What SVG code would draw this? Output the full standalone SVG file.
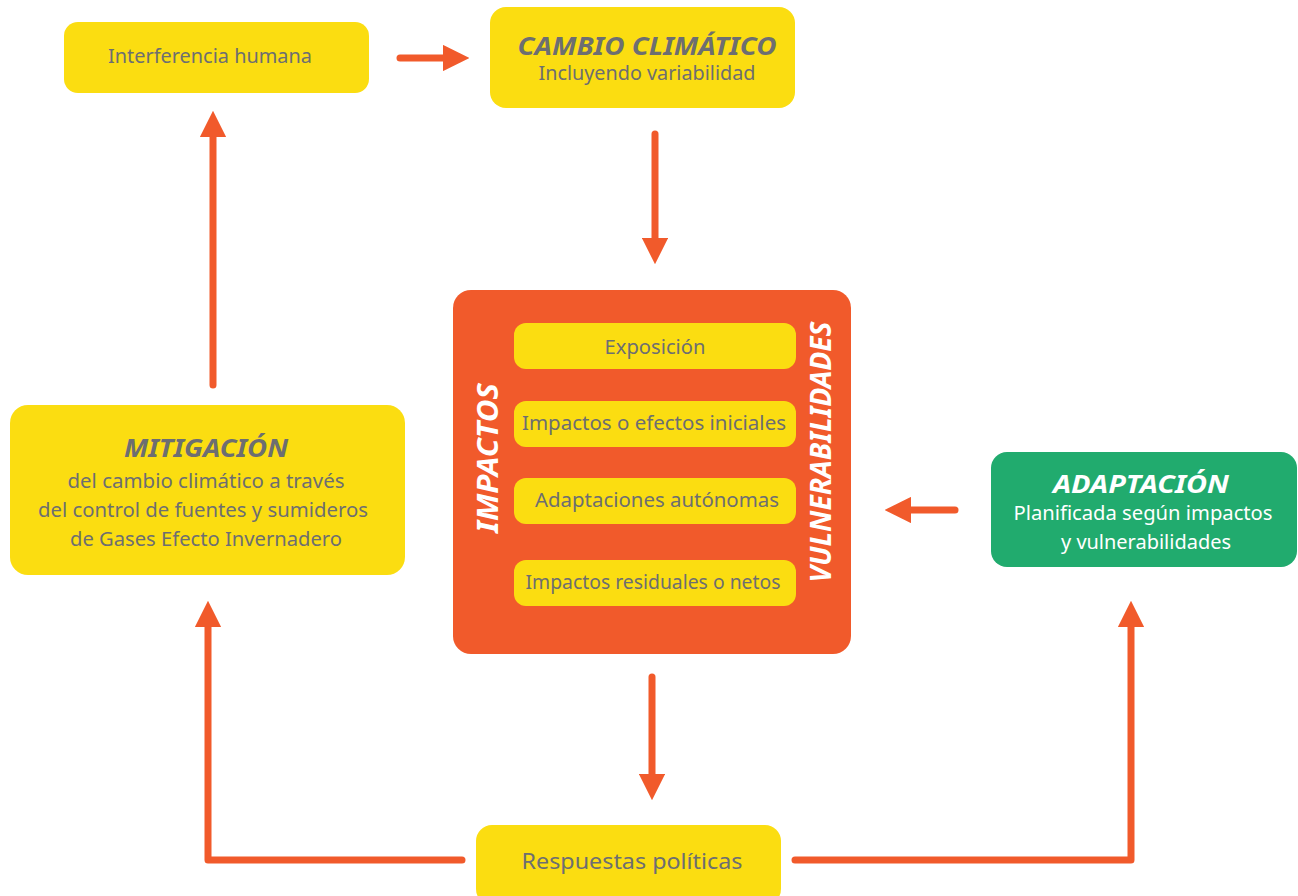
<svg xmlns="http://www.w3.org/2000/svg" width="1298" height="896" viewBox="0 0 1298 896">
<style>
.y{fill:#FBDD11}
.t{font-family:"Noto Sans","Open Sans",sans-serif;fill:#6D6E71;text-anchor:middle}
.b{font-weight:bold;font-style:italic}
.w{fill:#FFFFFF}
.c{fill:none;stroke:#F15A2B;stroke-width:7;stroke-linecap:round;stroke-linejoin:round}
</style>
<defs>
<marker id="ah" viewBox="0 0 10 10" refX="2" refY="5" markerWidth="3.8" markerHeight="3.8" orient="auto" markerUnits="strokeWidth">
<path d="M0,0 L10,5 L0,10 Z" fill="#F15A2B"/>
</marker>
</defs>
<rect width="1298" height="896" fill="#FFFFFF"/>
<g id="connectors">
<path class="c" d="M400,58 L448,58" marker-end="url(#ah)"/>
<path class="c" d="M655,134 L655,243" marker-end="url(#ah)"/>
<path class="c" d="M213,385 L213,132" marker-end="url(#ah)"/>
<path class="c" d="M955,510 L906,510" marker-end="url(#ah)"/>
<path class="c" d="M652,677 L652,779" marker-end="url(#ah)"/>
<path class="c" d="M462,860 L208,860 L208,622" marker-end="url(#ah)"/>
<path class="c" d="M795,860 L1131,860 L1131,622" marker-end="url(#ah)"/>
</g>
<g id="interferencia">
<rect class="y" x="64" y="22" width="305" height="71" rx="14"/>
<text class="t" x="210" y="63" font-size="20" textLength="204" lengthAdjust="spacingAndGlyphs">Interferencia humana</text>
</g>
<g id="cambio">
<rect class="y" x="490" y="7" width="305" height="101" rx="16"/>
<text class="t b" x="647" y="55" font-size="25" textLength="259" lengthAdjust="spacingAndGlyphs">CAMBIO CLIMÁTICO</text>
<text class="t" x="647" y="80" font-size="19" textLength="217" lengthAdjust="spacingAndGlyphs">Incluyendo variabilidad</text>
</g>
<g id="impactos">
<rect x="453" y="290" width="398" height="364" rx="18" fill="#F15A2B"/>
<text class="t b w" transform="translate(498,458) rotate(-90)" x="0" y="0" font-size="29" textLength="150" lengthAdjust="spacingAndGlyphs">IMPACTOS</text>
<text class="t b w" transform="translate(831,452) rotate(-90)" x="0" y="0" font-size="29" textLength="261" lengthAdjust="spacingAndGlyphs">VULNERABILIDADES</text>
</g>
<g id="exposicion">
<rect class="y" x="514" y="323" width="282" height="46" rx="12"/>
<text class="t" x="655" y="354" font-size="19" textLength="101" lengthAdjust="spacingAndGlyphs">Exposición</text>
</g>
<g id="iniciales">
<rect class="y" x="514" y="401" width="282" height="46" rx="12"/>
<text class="t" x="654" y="430" font-size="19" textLength="264" lengthAdjust="spacingAndGlyphs">Impactos o efectos iniciales</text>
</g>
<g id="autonomas">
<rect class="y" x="514" y="478" width="282" height="46" rx="12"/>
<text class="t" x="657" y="507" font-size="19" textLength="244" lengthAdjust="spacingAndGlyphs">Adaptaciones autónomas</text>
</g>
<g id="residuales">
<rect class="y" x="514" y="560" width="282" height="46" rx="12"/>
<text class="t" x="653" y="589" font-size="19" textLength="255" lengthAdjust="spacingAndGlyphs">Impactos residuales o netos</text>
</g>
<g id="mitigacion">
<rect class="y" x="10" y="405" width="395" height="170" rx="18"/>
<text class="t b" x="206" y="457" font-size="25" textLength="164" lengthAdjust="spacingAndGlyphs">MITIGACIÓN</text>
<text class="t" x="206" y="488" font-size="19" textLength="277" lengthAdjust="spacingAndGlyphs">del cambio climático a través</text>
<text class="t" x="203" y="517" font-size="19" textLength="330" lengthAdjust="spacingAndGlyphs">del control de fuentes y sumideros</text>
<text class="t" x="206" y="546" font-size="19" textLength="272" lengthAdjust="spacingAndGlyphs">de Gases Efecto Invernadero</text>
</g>
<g id="adaptacion">
<rect x="991" y="452" width="306" height="115" rx="16" fill="#21AB6E"/>
<text class="t b w" x="1141" y="493" font-size="25" textLength="176" lengthAdjust="spacingAndGlyphs">ADAPTACIÓN</text>
<text class="t w" x="1143" y="520" font-size="19" textLength="259" lengthAdjust="spacingAndGlyphs">Planificada según impactos</text>
<text class="t w" x="1146" y="549" font-size="19" textLength="170" lengthAdjust="spacingAndGlyphs">y vulnerabilidades</text>
</g>
<g id="respuestas">
<rect class="y" x="476" y="825" width="305" height="80" rx="16"/>
<text class="t" x="632" y="869" font-size="21" textLength="221" lengthAdjust="spacingAndGlyphs">Respuestas políticas</text>
</g>
</svg>
